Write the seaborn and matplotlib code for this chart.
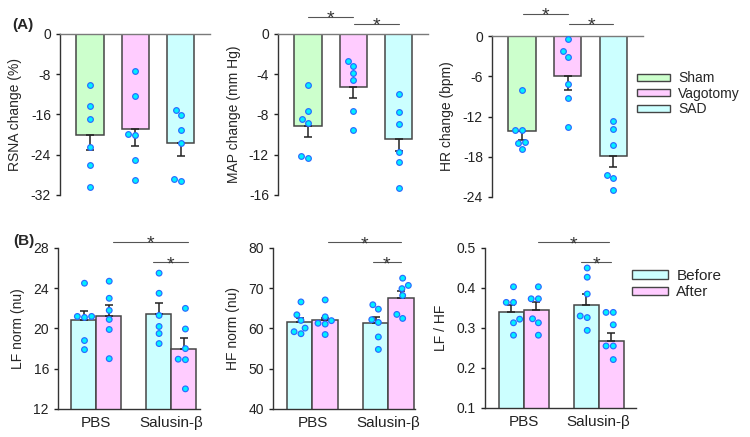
import numpy as np
import pandas as pd
import seaborn as sns
import matplotlib.pyplot as plt
from matplotlib.patches import Patch
from matplotlib.transforms import Affine2D

# ---- data ----
groups_a = ['Sham', 'Vagotomy', 'SAD']
colors_a = ['#ccffcc', '#ffccff', '#ccffff']

rsna_mean = [-20.1, -18.9, -21.7]
rsna_sem = [2.9, 3.4, 2.5]
rsna_points = [[-10.1, -14.3, -16.9, -22.5, -26.0, -30.5],
               [-7.4, -12.3, -19.9, -20.1, -25.1, -29.1],
               [-15.1, -16.1, -19.0, -21.7, -28.9, -29.3]]

map_mean = [-9.1, -5.3, -10.4]
map_sem = [1.1, 1.1, 1.2]
map_points = [[-5.1, -7.7, -8.4, -8.8, -12.1, -12.3],
              [-2.7, -3.2, -3.9, -4.6, -7.7, -9.5],
              [-6.0, -7.8, -8.9, -11.7, -12.7, -15.3]]

hr_mean = [-14.1, -6.0, -17.9]
hr_sem = [1.4, 2.0, 1.7]
hr_points = [[-8.0, -14.0, -14.0, -15.8, -16.0, -16.8],
             [-0.5, -2.3, -3.1, -7.1, -9.3, -13.5],
             [-12.6, -13.9, -16.3, -20.7, -21.2, -23.0]]

groups_b = ['PBS', 'Salusin-β']
conds_b = ['Before', 'After']
colors_b = ['#ccffff', '#ffccff']

# order of bars: PBS-Before, PBS-After, Salusin-Before, Salusin-After
lf_mean = [20.8, 21.2, 21.4, 18.0]
lf_sem = [0.9, 1.1, 1.1, 1.1]
lf_points = [[24.5, 21.2, 21.2, 21.1, 18.8, 17.9],
             [24.7, 23.0, 21.8, 20.9, 19.9, 17.0],
             [25.5, 23.5, 21.3, 20.2, 19.5, 18.5],
             [22.0, 19.95, 18.0, 16.9, 16.95, 14.0]]

hf_mean = [61.7, 62.1, 61.3, 67.7]
hf_sem = [1.0, 0.6, 1.6, 1.7]
hf_points = [[66.6, 63.4, 62.0, 60.1, 59.2, 58.7],
             [67.1, 62.9, 61.95, 61.3, 61.1, 58.5],
             [65.9, 64.8, 62.2, 61.5, 57.9, 54.8],
             [72.5, 70.7, 69.9, 68.2, 63.5, 62.5]]

ratio_mean = [0.341, 0.346, 0.357, 0.268]
ratio_sem = [0.016, 0.018, 0.027, 0.019]
ratio_points = [[0.403, 0.364, 0.364, 0.322, 0.313, 0.282],
                [0.403, 0.373, 0.373, 0.323, 0.313, 0.282],
                [0.45, 0.427, 0.385, 0.33, 0.326, 0.294],
                [0.339, 0.339, 0.308, 0.255, 0.255, 0.221]]

# ---- style ----
sns.set_style('ticks')
plt.rcParams['font.family'] = ['Liberation Sans', 'DejaVu Sans']
plt.rcParams['axes.unicode_minus'] = False

bar_edge = '#454545'
dot_fill = '#00f0ff'
dot_edge = '#2a6aff'
sig_color = '#555555'


def add_errorbars(ax, means, sems, down):
    bars = sorted([p for p in ax.patches if p.get_width() > 0], key=lambda p: p.get_x())
    xs = [p.get_x() + p.get_width() / 2 for p in bars]
    zeros = np.zeros(len(sems))
    yerr = [sems, zeros] if down else [zeros, sems]
    ax.errorbar(xs, means, yerr=yerr, fmt='none', ecolor='#222222',
                elinewidth=1.1, capsize=2.8, capthick=1.1, zorder=3)
    return xs


def add_sig(ax, x0, x1, y):
    ax.plot([x0, x1], [y, y], color=sig_color, lw=0.8, clip_on=False)
    ax.annotate('*', xy=((x0 + x1) / 2, y), xytext=(0, -5), textcoords='offset points',
                ha='center', va='baseline', fontsize=14, color='#333333', annotation_clip=False)


def style_axis(ax, ylim, ticks, ylabel):
    ax.set_ylim(*ylim)
    ax.set_yticks(ticks)
    ax.set_ylabel(ylabel, fontsize=10, labelpad=6)
    ax.tick_params(axis='y', length=3, width=1, labelsize=10, color='#222222', labelcolor='#222222')
    for s in ['left', 'bottom', 'top']:
        ax.spines[s].set_linewidth(1)
        ax.spines[s].set_color('#333333')
    ax.spines['right'].set_visible(False)


def panel_a(ax, means, sems, points, ylim, ticks, ylabel):
    bars = pd.DataFrame({'group': groups_a, 'value': means})
    sns.barplot(data=bars, x='group', y='value', hue='group', order=groups_a,
                hue_order=groups_a, palette=colors_a, width=0.6, errorbar=None,
                saturation=1, edgecolor=bar_edge, linewidth=1.1, legend=False, ax=ax)
    add_errorbars(ax, means, sems, down=True)
    pts = pd.DataFrame({'group': np.repeat(groups_a, [len(p) for p in points]),
                        'value': np.concatenate(points)})
    sns.swarmplot(data=pts, x='group', y='value', order=groups_a, color=dot_fill,
                  edgecolor=dot_edge, linewidth=0.85, size=4.1, zorder=4, ax=ax)
    ax.set_xlim(-0.66, 2.65)
    ax.set_xticks([])
    ax.set_xlabel('')
    style_axis(ax, ylim, ticks, ylabel)
    ax.spines['bottom'].set_visible(False)
    ax.spines['top'].set_visible(True)
    ax.spines['top'].set_color('#7a7a7a')


def panel_b(ax, means, sems, points, ylim, ticks, ylabel, xlim):
    bars = pd.DataFrame({'group': np.repeat(groups_b, 2), 'cond': conds_b * 2, 'value': means})
    sns.barplot(data=bars, x='group', y='value', hue='cond', order=groups_b,
                hue_order=conds_b, palette=colors_b, width=0.667, errorbar=None,
                saturation=1, edgecolor=bar_edge, linewidth=1.1, legend=False, ax=ax)
    xs = add_errorbars(ax, means, sems, down=False)
    pts = pd.DataFrame({'group': np.repeat(np.repeat(groups_b, 2), [len(p) for p in points]),
                        'cond': np.repeat(conds_b * 2, [len(p) for p in points]),
                        'value': np.concatenate(points)})
    n0 = len(ax.collections)
    sns.swarmplot(data=pts, x='group', y='value', hue='cond', order=groups_b,
                  hue_order=conds_b, dodge=True, palette=[dot_fill, dot_fill],
                  edgecolor=dot_edge, linewidth=0.85, size=4.1, zorder=4, legend=False, ax=ax)
    # seaborn dodges points for a 0.8 wide group: move each swarm onto its bar centre
    for coll in ax.collections[n0:]:
        cx = coll.get_offsets()[:, 0].mean()
        target = min(xs, key=lambda v: abs(v - cx))
        coll.set_offset_transform(Affine2D().translate(target - cx, 0) + ax.transData)
    ax.set_xlim(*xlim)
    ax.set_xlabel('')
    ax.tick_params(axis='x', length=0, labelsize=11, pad=5, labelcolor='#222222')
    style_axis(ax, ylim, ticks, ylabel)
    ax.spines['top'].set_visible(False)


fig = plt.figure(figsize=(7.5, 4.37), dpi=100)

ax1 = fig.add_axes([0.08, 0.5538, 0.2, 0.3684])
ax2 = fig.add_axes([0.3707, 0.5538, 0.2, 0.3684])
ax3 = fig.add_axes([0.656, 0.5492, 0.2013, 0.3684])
ax4 = fig.add_axes([0.0773, 0.0641, 0.1893, 0.3684])
ax5 = fig.add_axes([0.364, 0.0641, 0.1893, 0.3684])
ax6 = fig.add_axes([0.6467, 0.0664, 0.2013, 0.3661])

panel_a(ax1, rsna_mean, rsna_sem, rsna_points, (-32, 0), [0, -8, -16, -24, -32], 'RSNA change (%)')
panel_a(ax2, map_mean, map_sem, map_points, (-16, 0), [0, -4, -8, -12, -16], 'MAP change (mm Hg)')
panel_a(ax3, hr_mean, hr_sem, hr_points, (-24, 0), [0, -6, -12, -18, -24], 'HR change (bpm)')

add_sig(ax2, 0, 1, 1.7)
add_sig(ax2, 1.02, 2, 1.0)
add_sig(ax3, 0.02, 1, 3.3)
add_sig(ax3, 1.02, 2, 1.8)

panel_b(ax4, lf_mean, lf_sem, lf_points, (12, 28), [12, 16, 20, 24, 28], 'LF norm (nu)', (-0.51, 1.38))
panel_b(ax5, hf_mean, hf_sem, hf_points, (40, 80), [40, 50, 60, 70, 80], 'HF norm (nu)', (-0.52, 1.35))
panel_b(ax6, ratio_mean, ratio_sem, ratio_points, (0.1, 0.5), [0.1, 0.2, 0.3, 0.4, 0.5], 'LF / HF', (-0.52, 1.5))

add_sig(ax4, 0.22, 1.22, 28.6)
add_sig(ax4, 0.76, 1.22, 26.6)
add_sig(ax5, 0.2, 1.16, 81.4)
add_sig(ax5, 0.8, 1.16, 76.4)
add_sig(ax6, 0.19, 1.14, 0.514)
add_sig(ax6, 0.77, 1.16, 0.464)

# legends
handles_a = [Patch(facecolor=c, edgecolor=bar_edge, linewidth=1) for c in colors_a]
fig.legend(handles_a, groups_a, loc='upper left', bbox_to_anchor=(637 / 750, 1 - 71 / 437),
           frameon=False, fontsize=10, handlelength=2.4, handleheight=0.4,
           handletextpad=0.55, labelspacing=0.12, borderpad=0, borderaxespad=0)
handles_b = [Patch(facecolor=c, edgecolor=bar_edge, linewidth=1) for c in colors_b]
fig.legend(handles_b, conds_b, loc='upper left', bbox_to_anchor=(632 / 750, 1 - 269 / 437),
           frameon=False, fontsize=11, handlelength=2.35, handleheight=0.5,
           handletextpad=0.55, labelspacing=0.15, borderpad=0, borderaxespad=0)

fig.text(12 / 750, 1 - 25 / 437, '(A)', fontsize=11, fontweight='bold', va='center')
fig.text(13 / 750, 1 - 241 / 437, '(B)', fontsize=11, fontweight='bold', va='center')

fig.savefig('out.png', dpi=100)
